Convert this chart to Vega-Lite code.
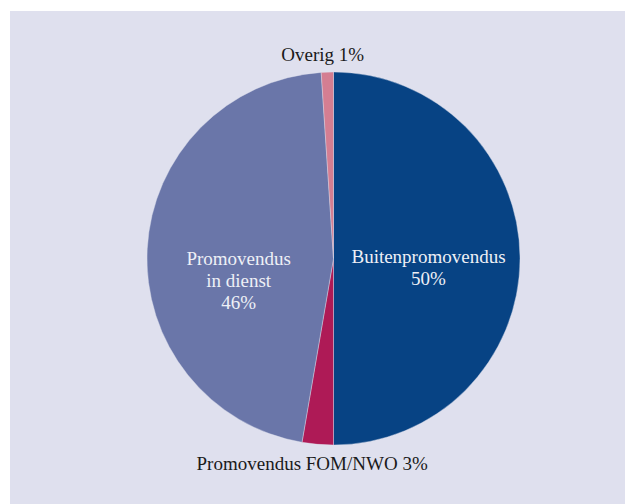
{
  "$schema": "https://vega.github.io/schema/vega-lite/v6.json",
  "width": 625,
  "height": 504,
  "autosize": {"type": "fit", "contains": "padding"},
  "padding": {"left": 10, "top": 11, "right": 0, "bottom": 0},
  "background": "white",
  "view": {"fill": "#dfe0ee", "stroke": null},
  "data": {
    "values": [
      {"i": 1, "cat": "Buitenpromovendus", "value": 50, "label": "Buitenpromovendus\n50%"},
      {"i": 2, "cat": "Promovendus FOM/NWO", "value": 2.7, "label": "Promovendus FOM/NWO 3%"},
      {"i": 3, "cat": "Promovendus in dienst", "value": 46.25, "label": "Promovendus\nin dienst\n46%"},
      {"i": 4, "cat": "Overig", "value": 1.05, "label": "Overig 1%"}
    ]
  },
  "encoding": {
    "theta": {"field": "value", "type": "quantitative", "stack": true},
    "order": {"field": "i", "type": "quantitative"}
  },
  "layer": [
    {
      "mark": {"type": "arc", "outerRadius": 186.5, "x": {"expr": "width/2+16"}, "y": {"expr": "height/2+1"}, "stroke": "#dfe0ee", "strokeWidth": 0.4},
      "encoding": {
        "color": {
          "field": "cat", "type": "nominal", "legend": null,
          "scale": {
            "domain": ["Buitenpromovendus", "Promovendus FOM/NWO", "Promovendus in dienst", "Overig"],
            "range": ["#074384", "#ae1a56", "#6a76a9", "#d47e92"]
          }
        }
      }
    },
    {
      "mark": {"type": "text", "radius": 95, "dy": -2, "x": {"expr": "width/2+16"}, "y": {"expr": "height/2+1"}, "font": "Liberation Serif", "fontSize": 19, "lineHeight": 22, "lineBreak": "\n", "color": "#eef0f6", "align": "center", "baseline": "middle"},
      "encoding": {
        "text": {"condition": {"test": "datum.cat === 'Buitenpromovendus'", "field": "label"}, "value": ""}
      }
    },
    {
      "mark": {"type": "text", "radius": 95, "dy": 5, "x": {"expr": "width/2+16"}, "y": {"expr": "height/2+1"}, "font": "Liberation Serif", "fontSize": 19, "lineHeight": 22, "lineBreak": "\n", "color": "#eef0f6", "align": "center", "baseline": "middle"},
      "encoding": {
        "text": {"condition": {"test": "datum.cat === 'Promovendus in dienst'", "field": "label"}, "value": ""}
      }
    },
    {
      "mark": {"type": "text", "radius": 205, "dy": 1, "dx": -4, "x": {"expr": "width/2+16"}, "y": {"expr": "height/2+1"}, "font": "Liberation Serif", "fontSize": 19, "color": "#1a1a1a", "align": "center", "baseline": "middle"},
      "encoding": {
        "text": {"condition": {"test": "datum.cat === 'Overig' || datum.cat === 'Promovendus FOM/NWO'", "field": "label"}, "value": ""}
      }
    }
  ]
}
